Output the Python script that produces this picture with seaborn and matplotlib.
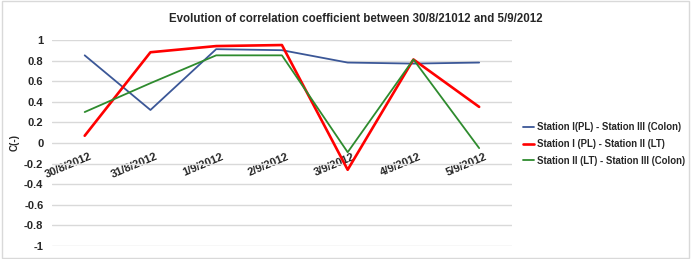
import matplotlib
matplotlib.use("Agg")
import matplotlib.pyplot as plt
import matplotlib.transforms as mtransforms
import seaborn as sns
import pandas as pd
from matplotlib.patches import Rectangle

# values
dates = ['30/8/2012', '31/8/2012', '1/9/2012', '2/9/2012', '3/9/2012', '4/9/2012', '5/9/2012']
station_1_3 = [0.85, 0.32, 0.91, 0.90, 0.78, 0.77, 0.78]
station_1_2 = [0.07, 0.88, 0.94, 0.95, -0.26, 0.81, 0.35]
station_2_3 = [0.30, 0.58, 0.85, 0.85, -0.09, 0.81, -0.05]
series_names = ['Station I(PL) - Station III (Colon)',
                'Station I (PL) - Station II (LT)',
                'Station II (LT) - Station III (Colon)']
y_ticks = [-1, -0.8, -0.6, -0.4, -0.2, 0, 0.2, 0.4, 0.6, 0.8, 1]

sns.set_style("white")
plt.rcParams['font.family'] = ['Liberation Sans', 'DejaVu Sans']

df = pd.DataFrame({
    'date': dates * 3,
    'C': station_1_3 + station_1_2 + station_2_3,
    'pair': [series_names[0]] * 7 + [series_names[1]] * 7 + [series_names[2]] * 7,
})

palette = {series_names[0]: '#3b5797', series_names[1]: '#ff0000', series_names[2]: '#2e8b2e'}
widths = {series_names[0]: 1.3, series_names[1]: 1.9, series_names[2]: 1.3}

fig = plt.figure(figsize=(6.91, 2.59), dpi=100)
ax = fig.add_axes([0.075, 0.05, 0.666, 0.796])

sns.lineplot(data=df, x='date', y='C', hue='pair', palette=palette, sort=False,
             estimator=None, ax=ax, legend=True)
for line, name in zip(ax.get_lines(), series_names):
    line.set_linewidth(widths[name])
    line.set_zorder(5)

ax.set_ylim(-1, 1)
ax.set_xlim(-0.5, 6.5)
ax.set_yticks(y_ticks)
ax.set_yticklabels([f'{v:g}' for v in y_ticks], fontsize=8, fontweight='bold')
ax.yaxis.grid(True, color='#d9d9d9', linewidth=1)
ax.set_axisbelow(True)
for s in ax.spines.values():
    s.set_visible(False)
ax.spines['bottom'].set_position(('data', 0))
ax.tick_params(axis='both', length=0, pad=6)
ax.set_xticks(range(len(dates)))
ax.set_xticklabels(dates, rotation=23, ha='right', rotation_mode='anchor',
                   fontsize=8, fontweight='bold')
ax.tick_params(axis='x', pad=6)
shift = mtransforms.ScaledTranslation(5 / 100, 0, fig.dpi_scale_trans)
for lbl in ax.get_xticklabels():
    lbl.set_transform(lbl.get_transform() + shift)
ax.set_xlabel('')
ax.set_ylabel('C(-)', fontsize=7, fontweight='bold')
ax.yaxis.set_label_coords(-0.07, 0.5)

fig.suptitle('Evolution of correlation coefficient between 30/8/21012 and 5/9/2012',
             x=0.515, y=0.95, fontsize=8.3, fontweight='bold')

leg = ax.legend(loc='center left', bbox_to_anchor=(0.757, 0.444), bbox_transform=fig.transFigure,
                frameon=False, fontsize=6.9, handlelength=1.1, handletextpad=0.3, labelspacing=0.7,
                borderaxespad=0, borderpad=0)
for t in leg.get_texts():
    t.set_fontweight('bold')
for h, name in zip(leg.legend_handles, series_names):
    h.set_linewidth(widths[name])

fig.patches.append(Rectangle((0.003, 0.005), 0.994, 0.99, transform=fig.transFigure,
                             fill=False, edgecolor='#d9d9d9', linewidth=1))

fig.savefig('out.png', dpi=100)
